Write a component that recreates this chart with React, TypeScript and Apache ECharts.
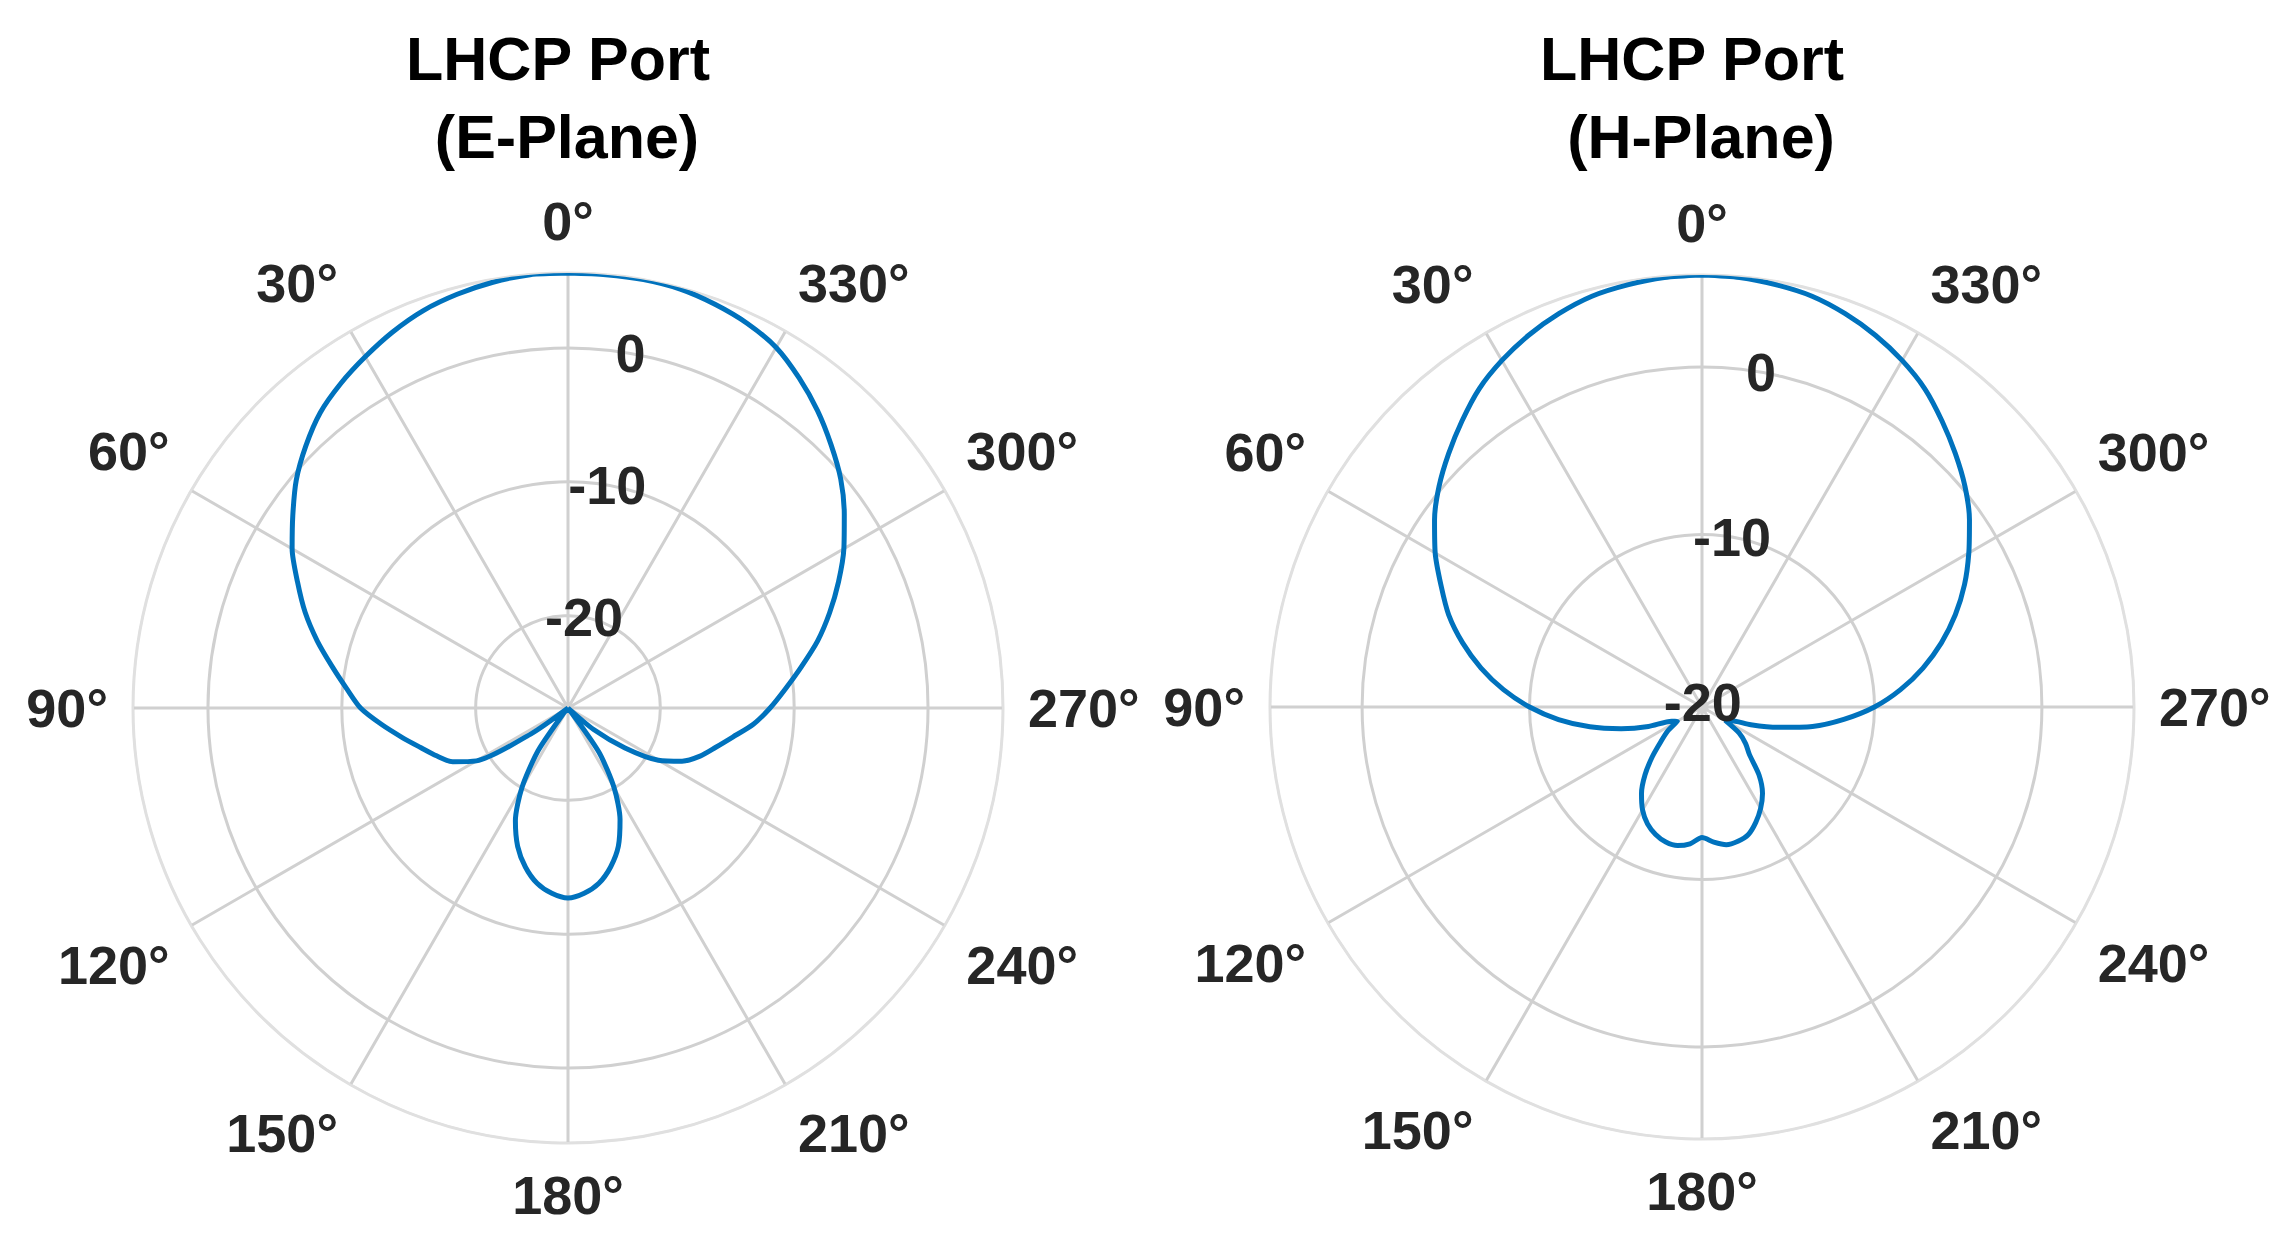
import React, { useEffect, useRef } from "react";
import * as echarts from "echarts";

// Angle (degrees, counter-clockwise from the top) of every sample
const ANGLES = [
  0, 5, 10, 15, 20, 25, 30, 35, 40, 45, 50, 55, 60, 65, 70, 75, 80, 85,
  90, 95, 100, 105, 110, 115, 120, 125, 130, 135, 140, 145, 150, 155, 160, 165, 170, 175,
  180, 185, 190, 195, 200, 205, 210, 215, 220, 225, 230, 235, 240, 245, 250, 255, 260, 265,
  270, 275, 280, 285, 290, 295, 300, 305, 310, 315, 320, 325, 330, 335, 340, 345, 350, 355,
];

// LHCP port, E-plane (dB)
const E_PLANE = [
  5.6, 5.6, 5.4, 5.1, 4.7, 4.1, 3.4, 2.7, 1.9, 0.8, -0.4, -1.8, -3.1, -4.6, -6.0, -7.5, -9.0, -10.3,
  -11.4, -12.9, -14.3, -15.5, -16.45, -17.4, -19.0, -23.6, -26.9, -26.9, -26.4, -23.0, -20.0, -17.6, -15.9, -14.6, -13.6, -13.0,
  -12.7, -13.0, -13.6, -14.6, -15.9, -17.7, -20.0, -22.9, -26.9, -26.9, -24.4, -21.7, -19.1, -17.5, -16.4, -15.5, -14.4, -13.0,
  -11.8, -10.6, -9.2, -7.6, -6.1, -4.6, -3.1, -1.7, -0.3, 0.9, 2.1, 3.2, 4.2, 4.8, 5.2, 5.5, 5.6, 5.6,
];

// LHCP port, H-plane (dB)
const H_PLANE = [
  5.5, 5.45, 5.3, 5.1, 4.7, 4.2, 3.6, 2.9, 2.0, 1.1, 0.2, -0.8, -1.9, -3.1, -4.2, -5.5, -6.9, -8.4,
  -10.0, -11.7, -13.5, -15.3, -16.9, -18.3, -18.6, -17.8, -17.1, -16.1, -15.0, -14.0, -13.2, -12.6, -12.2, -11.95, -11.9, -12.1,
  -12.5, -12.2, -11.95, -12.0, -12.2, -12.7, -13.3, -14.0, -15.0, -16.3, -16.9, -17.6, -18.7, -18.4, -17.2, -15.6, -13.6, -11.8,
  -10.0, -8.4, -6.9, -5.5, -4.2, -3.0, -1.9, -0.8, 0.2, 1.1, 2.0, 2.9, 3.6, 4.2, 4.7, 5.1, 5.3, 5.45,
];

// Radial axis limits (dB)
const E_RANGE = [-26.9, 5.6];
const H_RANGE = [-20.3, 5.5];

const TITLES_E = ["LHCP Port", "(E-Plane)"];
const TITLES_H = ["LHCP Port", "(H-Plane)"];

const FONT = '"Liberation Sans", Arial, Helvetica, sans-serif';
const GRID = "#d0d0d0";
const OUTER = "#e0e0e0";
const LABEL = "#262626";
const LINE = "#0072BD";

function buildOption() {
  const plots = [
    { center: [568, 708], radius: 435, range: E_RANGE, values: E_PLANE, titles: TITLES_E, tx: [558, 567] },
    { center: [1702, 707], radius: 432, range: H_RANGE, values: H_PLANE, titles: TITLES_H, tx: [1692, 1701] },
  ];

  const polar: any[] = [];
  const angleAxis: any[] = [];
  const radiusAxis: any[] = [];
  const series: any[] = [];
  const graphic: any[] = [];

  plots.forEach((p, i) => {
    polar.push({ center: p.center, radius: p.radius });
    polar.push({ center: p.center, radius: p.radius });

    angleAxis.push({
      polarIndex: 2 * i,
      type: "value",
      min: 0,
      max: 360,
      interval: 30,
      startAngle: 90,
      clockwise: false,
      axisLine: { show: true, lineStyle: { color: OUTER, width: 2 } },
      axisTick: { show: false },
      splitLine: { show: true, lineStyle: { color: GRID, width: 3 } },
      axisLabel: {
        show: true,
        margin: 25,
        fontSize: 54,
        fontWeight: "bold",
        fontFamily: FONT,
        color: LABEL,
        formatter: (v: number) => (v >= 360 ? "" : `${v}°`),
      },
    });
    angleAxis.push({
      polarIndex: 2 * i + 1,
      type: "value",
      min: 0,
      max: 360,
      startAngle: 80,
      clockwise: false,
      show: false,
    });

    radiusAxis.push({
      polarIndex: 2 * i,
      type: "value",
      min: p.range[0],
      max: p.range[1],
      splitNumber: 3,
      axisLine: { show: false },
      axisTick: { show: false },
      axisLabel: { show: false },
      splitLine: {
        show: true,
        lineStyle: { color: [GRID, GRID, GRID, GRID, OUTER], width: 3 },
      },
    });
    radiusAxis.push({
      polarIndex: 2 * i + 1,
      type: "value",
      min: p.range[0],
      max: p.range[1],
      splitNumber: 3,
      z: 10,
      axisLine: { show: false },
      axisTick: { show: false },
      splitLine: { show: false },
      axisLabel: {
        show: true,
        margin: 0,
        align: "center",
        verticalAlign: "middle",
        fontSize: 54,
        fontWeight: "bold",
        fontFamily: FONT,
        color: LABEL,
        formatter: (v: number) => (Math.abs(v % 10) < 1e-9 ? String(Math.round(v)) : ""),
      },
    });

    const data = ANGLES.map((a, k) => [p.values[k], a]);
    data.push([p.values[0], 360]);
    series.push({
      type: "line",
      coordinateSystem: "polar",
      polarIndex: 2 * i,
      data,
      symbol: "none",
      showSymbol: false,
      smooth: 0.25,
      z: 3,
      lineStyle: { color: LINE, width: 5 },
    });

    graphic.push({
      type: "text",
      x: p.tx[0],
      y: 59,
      style: {
        text: p.titles[0],
        fontSize: 61,
        fontWeight: "bold",
        fontFamily: FONT,
        fill: "#000",
        align: "center",
        verticalAlign: "middle",
      },
    });
    graphic.push({
      type: "text",
      x: p.tx[1],
      y: 137,
      style: {
        text: p.titles[1],
        fontSize: 61,
        fontWeight: "bold",
        fontFamily: FONT,
        fill: "#000",
        align: "center",
        verticalAlign: "middle",
      },
    });
  });

  return {
    animation: false,
    backgroundColor: "#ffffff",
    polar,
    angleAxis,
    radiusAxis,
    series,
    graphic,
  };
}

export default function App() {
  const ref = useRef<HTMLDivElement>(null);
  useEffect(() => {
    if (!ref.current) return;
    const chart = echarts.init(ref.current, undefined, { renderer: "svg" });
    chart.setOption(buildOption() as any);
    return () => chart.dispose();
  }, []);
  return (
    <div
      ref={ref}
      style={{ position: "absolute", left: 0, top: 0, width: 2285, height: 1254, background: "#fff" }}
    />
  );
}
